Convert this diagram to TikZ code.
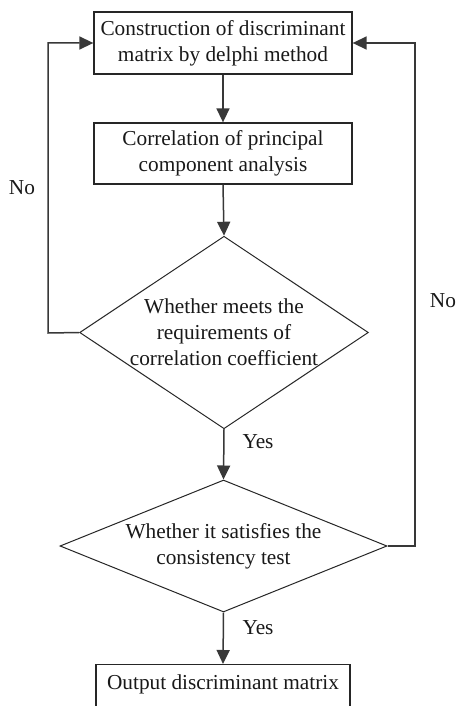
\documentclass[tikz,border=0pt]{standalone}
\usepackage{fontspec}
\setmainfont{Liberation Serif}
\usetikzlibrary{shapes.geometric,arrows.meta}
\begin{document}
\begin{tikzpicture}[x=1pt,y=-1pt,
  every node/.style={font=\fontsize{21.3}{26}\selectfont, text=black!90},
  procbox/.style={draw=black!85, line width=1.3pt, rectangle, align=center, inner sep=0pt},
  decision/.style={draw=black!85, line width=1pt, diamond, align=center, inner sep=0pt},
  conn/.style={draw=black!78, line width=1.5pt, -{Triangle[length=14pt,width=13pt]}},
  lbl/.style={inner sep=0pt}]
\clip (0,0) rectangle (457,706);
\fill[white] (0,0) rectangle (457,706);
\node[procbox, minimum width=258pt, minimum height=62pt] (b1) at (223,43) {Construction of discriminant\\matrix by delphi method};
\node[procbox, minimum width=258pt, minimum height=61pt] (b2) at (223,153.5) {Correlation of principal\\component analysis};
\node[decision, minimum width=288pt, minimum height=191pt, aspect=1.5] (d1) at (224,332.5) {Whether meets the\\requirements of\\correlation coefficient};
\node[decision, minimum width=327pt, minimum height=132pt, aspect=2.48] (d2) at (223.5,546) {Whether it satisfies the\\consistency test};
\node[procbox, minimum width=254pt, minimum height=46pt, anchor=north] (b3) at (223,664) {};
\node[lbl] (t3) at (223,684) {Output discriminant matrix};
\coordinate (lc) at (48,333);
\coordinate (lt) at (48,43);
\coordinate (rc) at (415,546);
\coordinate (rt) at (415,43);
\draw[conn] (b1.south) -- (b2.north);
\draw[conn] (b2.south) -- (d1.north);
\draw[conn] (d1.south) -- (d2.north);
\draw[conn] (d2.south) -- (b3.north);
\draw[conn] (d1.west) -- (lc) -- (lt) -- (b1.west);
\draw[conn] (d2.east) -- (rc) -- (rt) -- (b1.east);
\node[lbl] (no1) at (22,188) {No};
\node[lbl] (no2) at (443,301) {No};
\node[lbl] (y1) at (258,442) {Yes};
\node[lbl] (y2) at (258,628) {Yes};
\end{tikzpicture}
\end{document}
